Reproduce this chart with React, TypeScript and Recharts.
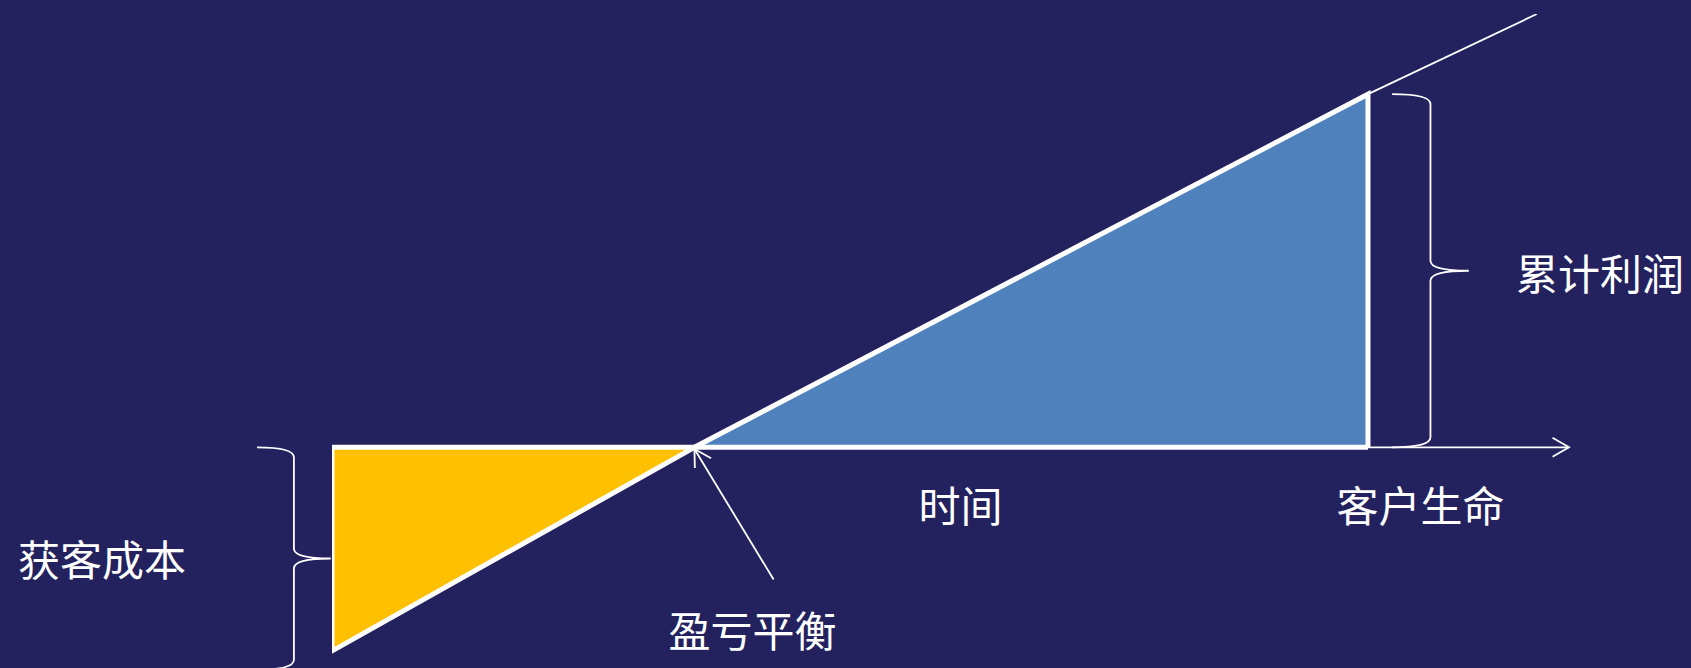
import {
  Area,
  ComposedChart,
  Line,
  ReferenceArea,
  ReferenceDot,
  ReferenceLine,
  XAxis,
  YAxis,
} from "recharts";

// time axis (arbitrary units) and cumulative profit per customer
const acquisitionCost = 47;
const breakEvenTime = 29.3;
const lifetimeTime = 83.75;
const lifetimeProfit = 81.5;
const horizonTime = 97.4;
const horizonProfit = 100;
const axisEnd = 100;

const costSeries = [
  { t: 0, v: 0 },
  { t: 0, v: -acquisitionCost },
  { t: breakEvenTime, v: 0 },
];
const profitSeries = [
  { t: breakEvenTime, v: 0 },
  { t: lifetimeTime, v: lifetimeProfit },
  { t: lifetimeTime, v: 0 },
];
const trendSeries = [
  { t: lifetimeTime, v: lifetimeProfit },
  { t: horizonTime, v: horizonProfit },
];

const labels = [
  { text: "获客成本", t: -18.6, v: -25.4 },
  { text: "盈亏平衡", t: 34.0, v: -41.8 },
  { text: "时间", t: 50.8, v: -12.9 },
  { text: "客户生命", t: 88.0, v: -12.9 },
  { text: "累计利润", t: 102.5, v: 40.6 },
];

const BG = "#24225E";
const YELLOW = "#FFC000";
const BLUE = "#4F81BD";
const FONT = '"Noto Sans CJK SC", "Noto Sans", sans-serif';

function ArrowLine(props: any) {
  const { x1, y1, x2, y2 } = props;
  const a = Math.atan2(y2 - y1, x2 - x1);
  const len = 19;
  const sp = Math.PI / 6;
  const hx1 = x2 - len * Math.cos(a - sp);
  const hy1 = y2 - len * Math.sin(a - sp);
  const hx2 = x2 - len * Math.cos(a + sp);
  const hy2 = y2 - len * Math.sin(a + sp);
  return (
    <g stroke="#fff" strokeWidth={1.8} fill="none">
      <line x1={x1} y1={y1} x2={x2} y2={y2} />
      <polyline points={`${hx1},${hy1} ${x2},${y2} ${hx2},${hy2}`} />
    </g>
  );
}

function Brace(props: any) {
  const { x, y, width, height } = props;
  const xv = x + width * 0.5;
  const xt = x + width;
  const mid = y + height / 2;
  const bot = y + height;
  const r = 10;
  const d = `M${x},${y} Q${xv},${y} ${xv},${y + r} L${xv},${mid - r} Q${xv},${mid} ${xt},${mid} Q${xv},${mid} ${xv},${mid + r} L${xv},${bot - r} Q${xv},${bot} ${x},${bot}`;
  return <path d={d} stroke="#fff" strokeWidth={1.8} fill="none" />;
}

function LabelText(props: any) {
  const { cx, cy, text } = props;
  return (
    <text
      x={cx}
      y={cy}
      textAnchor="middle"
      dominantBaseline="central"
      fill="#fff"
      fontSize={42}
      fontFamily={FONT}
    >
      {text}
    </text>
  );
}

export default function App() {
  return (
    <div style={{ width: 1691, height: 668, background: BG }}>
      <style>{`body{margin:0;background:${BG};}`}</style>
      <ComposedChart
        width={1691}
        height={668}
        margin={{ top: 14, right: 122, bottom: 4, left: 332 }}
      >
        <XAxis type="number" dataKey="t" domain={[0, axisEnd]} allowDataOverflow hide />
        <YAxis type="number" dataKey="v" domain={[-50, 100]} allowDataOverflow hide />

        <Area
          data={costSeries}
          dataKey="v"
          type="linear"
          baseValue={0}
          fill={YELLOW}
          fillOpacity={1}
          stroke="#fff"
          strokeWidth={5}
          strokeLinejoin="miter"
          dot={false}
          activeDot={false}
          isAnimationActive={false}
        />
        <Area
          data={profitSeries}
          dataKey="v"
          type="linear"
          baseValue={0}
          fill={BLUE}
          fillOpacity={1}
          stroke="#fff"
          strokeWidth={5}
          strokeLinejoin="miter"
          dot={false}
          activeDot={false}
          isAnimationActive={false}
        />
        <Line
          data={trendSeries}
          dataKey="v"
          type="linear"
          stroke="#fff"
          strokeWidth={1.8}
          dot={false}
          activeDot={false}
          isAnimationActive={false}
        />

        {/* thick base edge of the two triangles */}
        <ReferenceLine
          segment={[
            { x: 0, y: 0 },
            { x: lifetimeTime, y: 0 },
          ]}
          stroke="#fff"
          strokeWidth={5}
          ifOverflow="visible"
        />
        {/* time axis arrow */}
        <ReferenceLine
          segment={[
            { x: lifetimeTime, y: 0 },
            { x: axisEnd, y: 0 },
          ]}
          ifOverflow="visible"
          shape={ArrowLine}
        />
        {/* break-even pointer */}
        <ReferenceLine
          segment={[
            { x: 35.7, y: -30.5 },
            { x: breakEvenTime, y: -0.4 },
          ]}
          ifOverflow="visible"
          shape={ArrowLine}
        />

        <ReferenceArea
          x1={-6.06}
          x2={-0.1}
          y1={0}
          y2={-51.3}
          ifOverflow="visible"
          shape={Brace}
        />
        <ReferenceArea
          x1={85.7}
          x2={91.9}
          y1={0}
          y2={lifetimeProfit}
          ifOverflow="visible"
          shape={Brace}
        />

        {labels.map((l) => (
          <ReferenceDot
            key={l.text}
            x={l.t}
            y={l.v}
            r={0}
            ifOverflow="visible"
            shape={(p: any) => <LabelText {...p} text={l.text} />}
          />
        ))}
      </ComposedChart>
    </div>
  );
}
